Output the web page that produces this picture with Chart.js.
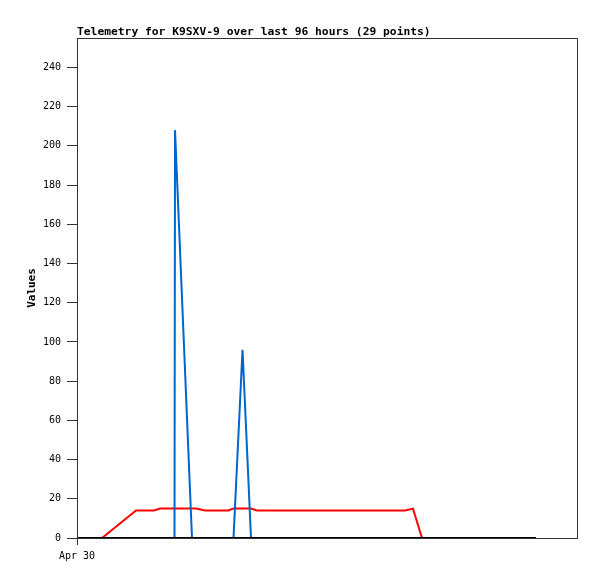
<!DOCTYPE html>
<html>
<head>
<meta charset="utf-8">
<script src="https://cdn.jsdelivr.net/npm/chart.js@4"></script>
<style>
  html, body { margin: 0; padding: 0; background: #fff; }
  #wrap { width: 597px; height: 579px; }
</style>
</head>
<body>
<div id="wrap"><canvas id="chart" width="597" height="579"></canvas></div>
<script>
// hours since Apr 30 00:00
const hours = [0, 4.8, 11.33, 14.78, 15.94, 18.72, 18.82, 22.08, 22.85, 24.58,
  28.99, 30.05, 31.78, 33.41, 34.56, 37.06, 40.9, 47.6, 51.5, 55.3,
  59.1, 62.98, 64.51, 66.24, 72.6, 76.4, 80.3, 84.2, 88.13];
const redValues = [null, 0, 14, 14, 15, 15, 15, 15, 15, 14,
  14, 15, 15, 15, 14, 14, 14, 14, 14, 14,
  14, 14, 15, 0, 0, 0, 0, 0, 0];
const blueValues = [0, 0, 0, 0, 0, 0, 208, 0, 0, 0,
  0, 0, 96, 0, 0, 0, 0, 0, 0, 0,
  0, 0, 0, 0, 0, 0, 0, 0, 0];
const blackValues = [0, 0, 0, 0, 0, 0, 0, 0, 0, 0,
  0, 0, 0, 0, 0, 0, 0, 0, 0, 0,
  0, 0, 0, 0, 0, 0, 0, 0, 0];
const xTickLabels = ["Apr 30"];
const titleText = "Telemetry for K9SXV-9 over last 96 hours (29 points)";

const toPoints = (vals) => hours.map((h, i) => ({ x: h, y: vals[i] }));

const frame = {
  id: "frame",
  afterDraw(chart) {
    const { ctx, chartArea: a } = chart;
    ctx.save();
    ctx.strokeStyle = "#333";
    ctx.lineWidth = 1;
    ctx.strokeRect(a.left + 0.5, a.top + 0.5, a.right - a.left, a.bottom - a.top);
    ctx.fillStyle = "#000";
    ctx.font = "bold 11.3px 'DejaVu Sans Mono'";
    ctx.textBaseline = "alphabetic";
    ctx.fillText(titleText, a.left, 35);
    ctx.restore();
  },
};

new Chart(document.getElementById("chart").getContext("2d"), {
  type: "line",
  data: {
    datasets: [
      { label: "black", data: toPoints(blackValues), borderColor: "#000", borderWidth: 2, order: 0 },
      { label: "blue", data: toPoints(blueValues), borderColor: "#0066cc", borderWidth: 2, order: 1 },
      { label: "red", data: toPoints(redValues), borderColor: "#ff0000", borderWidth: 2, order: 2 },
    ],
  },
  options: {
    responsive: false,
    animation: false,
    layout: { padding: { top: 38, right: 20, left: 0, bottom: 0 } },
    elements: { point: { radius: 0 }, line: { tension: 0 } },
    plugins: { legend: { display: false }, tooltip: { enabled: false } },
    scales: {
      x: {
        type: "linear",
        min: 0,
        max: 96,
        afterFit: (s) => { s.height = 41; },
        afterBuildTicks: (s) => { s.ticks = [{ value: 0 }]; },
        border: { display: false },
        grid: { drawOnChartArea: false, tickLength: 7, color: "#333" },
        ticks: {
          color: "#000",
          padding: 5,
          maxRotation: 0,
          font: { family: "DejaVu Sans Mono", size: 10 },
          callback: (v, i) => xTickLabels[i],
        },
      },
      y: {
        min: 0,
        max: 255,
        afterFit: (s) => { s.width = 77; },
        border: { display: false },
        grid: { drawOnChartArea: false, tickLength: 10, color: "#333" },
        ticks: {
          stepSize: 20,
          includeBounds: false,
          color: "#000",
          padding: 6,
          font: { family: "DejaVu Sans Mono", size: 10 },
        },
        title: {
          display: true,
          text: "Values",
          color: "#000",
          padding: { top: 26, bottom: 0 },
          font: { family: "DejaVu Sans Mono", size: 11, weight: "bold" },
        },
      },
    },
  },
  plugins: [frame],
});
</script>
</body>
</html>
